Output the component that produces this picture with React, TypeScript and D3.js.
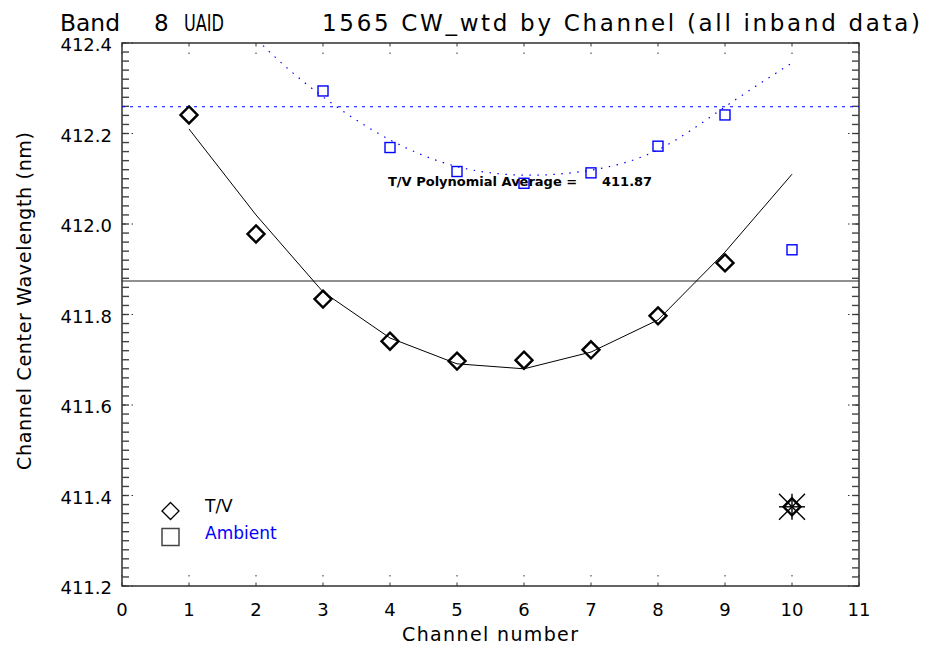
import React from 'react';
import * as d3 from 'd3';

// Channels 1..10
const channels = [1, 2, 3, 4, 5, 6, 7, 8, 9, 10];

// T/V measured centre wavelengths (nm)
const tvValues = [412.241, 411.978, 411.834, 411.741, 411.697, 411.699, 411.722, 411.797, 411.914, 411.375];
// T/V polynomial fit at each channel
const tvFit = [412.21, 412.02, 411.85, 411.748, 411.691, 411.68, 411.717, 411.788, 411.938, 412.11];
const tvAverage = 411.874;

// Ambient measured centre wavelengths (ch1, ch2 lie above the plotted range)
const ambValues = [412.9, 412.55, 412.294, 412.169, 412.116, 412.09, 412.113, 412.172, 412.241, 411.943];
// Ambient polynomial fit at each channel
const ambFit = [412.58, 412.41, 412.281, 412.186, 412.127, 412.108, 412.119, 412.164, 412.259, 412.356];
const ambAverage = 412.259;

// channel flagged with an asterisk
const flagged = [10];

const xTicks = d3.range(0, 12);
const yTicks = [411.2, 411.4, 411.6, 411.8, 412.0, 412.2, 412.4];
const yMinor = d3.range(0, 61).map(i => 411.2 + i * 0.02);

const W = 926;
const H = 650;
const L = 122, R = 859, T = 43, B = 586;
const FONT = '"DejaVu Sans", sans-serif';

const App: React.FC = () => {
  const x = d3.scaleLinear().domain([0, 11]).range([L, R]);
  const y = d3.scaleLinear().domain([411.2, 412.4]).range([B, T]);

  const fitLine = d3.line<number>()
    .x((_, i) => x(channels[i]))
    .y(d => y(d));
  const ambLine = d3.line<number>()
    .x((_, i) => x(channels[i]))
    .y(d => y(d))
    .curve(d3.curveNatural);

  const diamond = (cx: number, cy: number, r: number) =>
    `M${cx},${cy - r}L${cx + r},${cy}L${cx},${cy + r}L${cx - r},${cy}Z`;

  const majorDash = '3.5 6 1.5 20';

  return (
    <svg width={W} height={H} style={{ position: 'absolute', left: 0, top: 0, background: '#fff' }}>
      <defs>
        <clipPath id="plotclip">
          <rect x={L} y={T} width={R - L} height={B - T} />
        </clipPath>
      </defs>

      {/* title */}
      <g fontFamily={FONT} fontSize={23} fill="#000">
        <text x={60} y={31} textLength={60} lengthAdjust="spacingAndGlyphs">Band</text>
        <text x={154} y={31}>8</text>
        <text x={184} y={31} textLength={40} lengthAdjust="spacingAndGlyphs">UAID</text>
        <text x={322} y={31} textLength={598} lengthAdjust="spacing">1565 CW_wtd by Channel (all inband data)</text>
      </g>

      {/* frame */}
      <rect x={L} y={T} width={R - L} height={B - T} fill="none" stroke="#222" strokeWidth={1.4} />

      {/* minor y ticks, left and right */}
      {yMinor.map((v, i) => (
        <g key={'m' + i} stroke="#444" strokeWidth={1.4}>
          <line x1={L} x2={L + 7} y1={y(v)} y2={y(v)} />
          <line x1={R} x2={R - 7} y1={y(v)} y2={y(v)} />
        </g>
      ))}
      {/* major y ticks */}
      {yTicks.map(v => (
        <g key={'y' + v} stroke="#333" strokeWidth={1} strokeDasharray={majorDash}>
          <line x1={L} x2={L + 12} y1={y(v)} y2={y(v)} />
          <line x1={R} x2={R - 12} y1={y(v)} y2={y(v)} />
        </g>
      ))}
      {/* major x ticks */}
      {xTicks.map(v => (
        <g key={'x' + v} stroke="#333" strokeWidth={1} strokeDasharray={majorDash}>
          <line x1={x(v)} x2={x(v)} y1={B} y2={B - 11} />
          <line x1={x(v)} x2={x(v)} y1={T} y2={T + 11} />
        </g>
      ))}

      {/* tick labels */}
      <g fontFamily={FONT} fontSize={18} fill="#000">
        {yTicks.map(v => (
          <text key={'yl' + v} x={112} y={y(v) + 8} textAnchor="end">{v.toFixed(1)}</text>
        ))}
        {xTicks.map(v => (
          <text key={'xl' + v} x={x(v)} y={616} textAnchor="middle">{v}</text>
        ))}
      </g>

      {/* axis titles */}
      <text x={490} y={641} textAnchor="middle" fontFamily={FONT} fontSize={19} textLength={176} lengthAdjust="spacing">Channel number</text>
      <text transform="translate(31,301) rotate(-90)" textAnchor="middle" fontFamily={FONT} fontSize={19} textLength={338} lengthAdjust="spacing">Channel Center Wavelength (nm)</text>

      <g clipPath="url(#plotclip)">
        {/* averages */}
        <line x1={L} x2={R} y1={y(tvAverage)} y2={y(tvAverage)} stroke="#222" strokeWidth={1.2} />
        <line x1={L} x2={R} y1={y(ambAverage)} y2={y(ambAverage)} stroke="#0000ff" strokeWidth={1.1} strokeDasharray="3 5" />

        {/* ambient fit */}
        <path d={ambLine(ambFit) ?? ''} fill="none" stroke="#0000ff" strokeWidth={1.2} strokeDasharray="1.5 6.5" />
        {/* T/V fit */}
        <path d={fitLine(tvFit) ?? ''} fill="none" stroke="#000" strokeWidth={1} />

        {/* ambient squares */}
        {ambValues.map((v, i) => (
          <rect key={'a' + i} x={x(channels[i]) - 5} y={y(v) - 5} width={10} height={10}
            fill="none" stroke="#0000ff" strokeWidth={1.4} />
        ))}

        {/* T/V diamonds */}
        {tvValues.map((v, i) => (
          <path key={'t' + i} d={diamond(x(channels[i]), y(v), 8.5)} fill="none" stroke="#000" strokeWidth={2.4} />
        ))}

        {/* flagged asterisk */}
        {flagged.map(c => {
          const cx = x(c);
          const cy = y(tvValues[channels.indexOf(c)]);
          const r = 13;
          return (
            <g key={'f' + c} stroke="#000" strokeWidth={1.4}>
              <line x1={cx - r} y1={cy - r} x2={cx + r} y2={cy + r} />
              <line x1={cx - r} y1={cy + r} x2={cx + r} y2={cy - r} />
              <line x1={cx} y1={cy - r} x2={cx} y2={cy + r} />
              <line x1={cx - r} y1={cy} x2={cx + r} y2={cy} />
            </g>
          );
        })}
      </g>

      {/* polynomial average annotation */}
      <g fontFamily={FONT} fontSize={13} fontWeight="bold" fill="#000">
        <text x={388} y={186}>T/V Polynomial Average =</text>
        <text x={602} y={186}>{tvAverage.toFixed(2)}</text>
      </g>

      {/* legend */}
      <path d={diamond(170.5, 511, 8.5)} fill="none" stroke="#000" strokeWidth={1.3} />
      <rect x={162} y={528.5} width={17} height={17} fill="none" stroke="#444" strokeWidth={1.5} />
      <g fontFamily={FONT} fontSize={17}>
        <text x={205} y={512} fill="#000">T/V</text>
        <text x={205} y={539} fill="#0000ff">Ambient</text>
      </g>
    </svg>
  );
};

export default App;
